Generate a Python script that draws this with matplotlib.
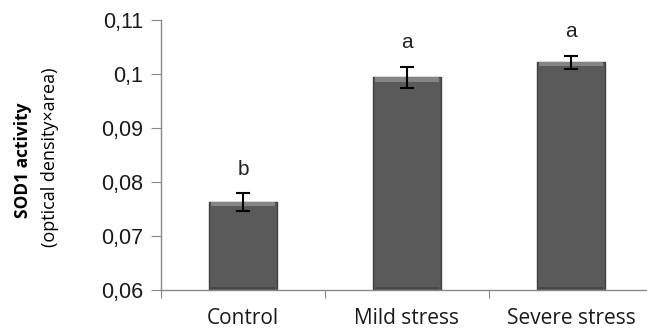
import numpy as np
import matplotlib
matplotlib.use("Agg")
import matplotlib.pyplot as plt

groups = ["Control", "Mild stress", "Severe stress"]
means = [0.0763, 0.0994, 0.1022]
errs = [0.0016, 0.0019, 0.0012]
letters = ["b", "a", "a"]
yticks = [0.06, 0.07, 0.08, 0.09, 0.10, 0.11]
ytick_labels = ["0,06", "0,07", "0,08", "0,09", "0,1", "0,11"]

fig = plt.figure(figsize=(6.47, 3.34), dpi=100)
ax = fig.add_axes([161/647, 44/334, 492/647, 270/334])

x = np.arange(len(groups))
heights = np.array(means) - 0.06
ax.bar(x, heights, bottom=0.06, width=0.41,
       color="#5a5a5a", edgecolor="#404040", linewidth=1.0, zorder=2)
# bevel look: lighter band at the top, darker band at the bottom
ax.bar(x, 0.0008, bottom=np.array(means) - 0.0008, width=0.39,
       color="#858585", linewidth=0, zorder=2.1)
ax.bar(x, 0.0005, bottom=0.0601, width=0.39,
       color="#474747", linewidth=0, zorder=2.1)
ax.errorbar(x, means, yerr=errs, fmt="none", ecolor="black",
            elinewidth=1.5, capsize=5, capthick=1.5, zorder=3)
for xi, m, e, lab in zip(x, means, errs, letters):
    ax.text(xi, m + e + 0.0027, lab, ha="center", va="bottom",
            fontsize=15, family="Liberation Sans", color="#222222")

ax.set_xlim(-0.5, 2.5)
ax.set_ylim(0.06, 0.11)
ax.set_yticks(yticks)
ax.set_yticklabels(ytick_labels, family="Liberation Sans", fontsize=15.5,
                   color="#1a1a1a")
ax.set_xticks([-0.5, 0.5, 1.5, 2.5])
ax.set_xticklabels([])
ax.set_xticks(x, minor=True)
ax.set_xticklabels(groups, minor=True, fontsize=15, family="Open Sans",
                   color="#1a1a1a")
ax.tick_params(axis="x", which="minor", length=0, pad=13)
ax.tick_params(axis="x", which="major", length=6, color="#888888", direction="out")
ax.tick_params(axis="y", length=7, color="#888888", direction="out", pad=6)

for s in ["top", "right"]:
    ax.spines[s].set_visible(False)
for s in ["left", "bottom"]:
    ax.spines[s].set_color("#888888")
    ax.spines[s].set_linewidth(1.0)

fig.text(0.036, 0.52, "SOD1 activity", rotation=90, ha="center", va="center",
         fontsize=12.5, fontweight="bold", family="Open Sans")
fig.text(0.077, 0.53, "(optical density\u00d7area)", rotation=90, ha="center",
         va="center", fontsize=13, family="Open Sans")

fig.savefig("out.png", dpi=100)
